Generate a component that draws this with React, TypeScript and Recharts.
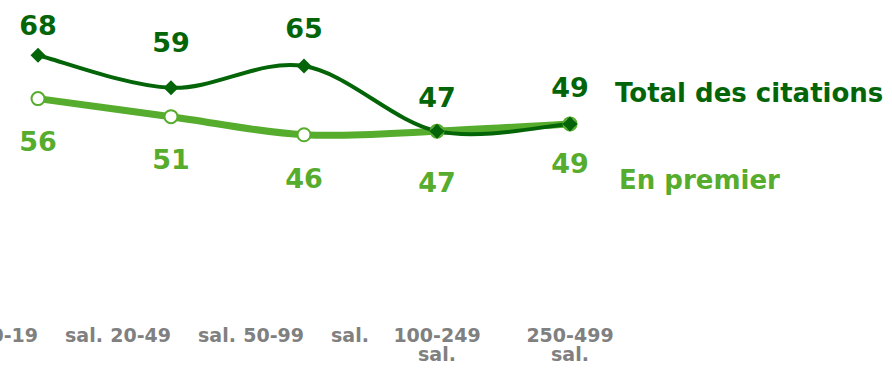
import { Legend, Line, LineChart, XAxis, YAxis } from "recharts";

const categories = ["10-19 sal.", "20-49 sal.", "50-99 sal.", "100-249 sal.", "250-499 sal."];
const totalCitations = [68, 59, 65, 47, 49];
const enPremier = [56, 51, 46, 47, 49];
const seriesNames = ["Total des citations", "En premier"];

// hand-placed value labels in the original, nudged a little per point
const totalLabelDy = [-20, -36, -28, -24, -27];
const premierLabelDy = [52, 52, 53, 61, 49];

const DARK = "#046508";
const LIGHT = "#56AC2C";
const GREY = "#808080";
const FONT = "'DejaVu Sans', Verdana, sans-serif";

const data = categories.map((cat, i) => ({
  idx: i,
  cat,
  total: totalCitations[i],
  premier: enPremier[i],
}));

// Excel-style smoothed line (Catmull-Rom through the points)
function smoothCurve(context: any) {
  let pts: number[][] = [];
  return {
    areaStart() {},
    areaEnd() {},
    lineStart() {
      pts = [];
    },
    point(x: number, y: number) {
      pts.push([+x, +y]);
    },
    lineEnd() {
      if (!pts.length) return;
      context.moveTo(pts[0][0], pts[0][1]);
      for (let i = 0; i < pts.length - 1; i++) {
        const p0 = pts[Math.max(i - 1, 0)];
        const p1 = pts[i];
        const p2 = pts[i + 1];
        const p3 = pts[Math.min(i + 2, pts.length - 1)];
        context.bezierCurveTo(
          p1[0] + (p2[0] - p0[0]) / 6,
          p1[1] + (p2[1] - p0[1]) / 6,
          p2[0] - (p3[0] - p1[0]) / 6,
          p2[1] - (p3[1] - p1[1]) / 6,
          p2[0],
          p2[1],
        );
      }
    },
  };
}

function SalTick({ x, y, payload }: any) {
  const label = categories[payload.value] ?? "";
  const [range, unit] = label.split(" ");
  const common = { fill: GREY, fontSize: 19, fontWeight: 700, fontFamily: FONT };
  // three-digit ranges wrap onto two lines, the short ones sit on one line
  if (range.length > 5) {
    return (
      <g>
        <text x={x} y={y + 33} textAnchor="middle" {...common}>{range}</text>
        <text x={x} y={y + 52} textAnchor="middle" {...common}>{unit}</text>
      </g>
    );
  }
  return (
    <g>
      <text x={x} y={y + 33} textAnchor="end" {...common}>{range}</text>
      <text x={x + 27} y={y + 33} textAnchor="start" {...common}>{unit}</text>
    </g>
  );
}

function Diamond({ cx, cy }: any) {
  if (cx == null || cy == null) return null;
  const r = 7.5;
  return (
    <path
      d={`M${cx},${cy - r} L${cx + r},${cy} L${cx},${cy + r} L${cx - r},${cy} Z`}
      fill={DARK}
    />
  );
}

function Ring({ cx, cy }: any) {
  if (cx == null || cy == null) return null;
  return <circle cx={cx} cy={cy} r={6.5} fill="#fff" stroke={LIGHT} strokeWidth={2} />;
}

const labelAbove = ({ x, y, value, index }: any) => (
  <text x={x} y={y + (totalLabelDy[index] ?? -27)} textAnchor="middle" fill={DARK} fontSize={27} fontWeight={700} fontFamily={FONT}>
    {value}
  </text>
);

const labelBelow = ({ x, y, value, index }: any) => (
  <text x={x} y={y + (premierLabelDy[index] ?? 53)} textAnchor="middle" fill={LIGHT} fontSize={27} fontWeight={700} fontFamily={FONT}>
    {value}
  </text>
);

function SideLegend() {
  return (
    <div style={{ fontFamily: FONT, fontWeight: 700, fontSize: 26, whiteSpace: "nowrap" }}>
      <div style={{ color: DARK, lineHeight: "30px" }}>{seriesNames[0]}</div>
      <div style={{ color: LIGHT, lineHeight: "30px", marginTop: 57, paddingLeft: 4 }}>{seriesNames[1]}</div>
    </div>
  );
}

export default function App() {
  return (
    <div style={{ position: "absolute", left: 0, top: 0, width: 892, height: 375, background: "#fff" }}>
      <LineChart
        width={892}
        height={375}
        data={data}
        margin={{ top: 48, right: 322, left: 38, bottom: 0 }}
      >
        <XAxis
          type="number"
          dataKey="idx"
          domain={[0, 4]}
          ticks={[0, 1, 2, 3, 4]}
          tick={<SalTick />}
          axisLine={false}
          tickLine={false}
          height={74}
          interval={0}
        />
        <YAxis hide domain={[0, 70]} />
        <Legend
          layout="vertical"
          align="center"
          verticalAlign="middle"
          content={<SideLegend />}
          wrapperStyle={{ left: 615, top: 78, width: 277 }}
        />
        <Line
          type={smoothCurve as any}
          dataKey="premier"
          stroke={LIGHT}
          strokeWidth={7}
          dot={<Ring />}
          activeDot={false}
          label={labelBelow}
          isAnimationActive={false}
        />
        <Line
          type={smoothCurve as any}
          dataKey="total"
          stroke={DARK}
          strokeWidth={4}
          dot={<Diamond />}
          activeDot={false}
          label={labelAbove}
          isAnimationActive={false}
        />
      </LineChart>
    </div>
  );
}
